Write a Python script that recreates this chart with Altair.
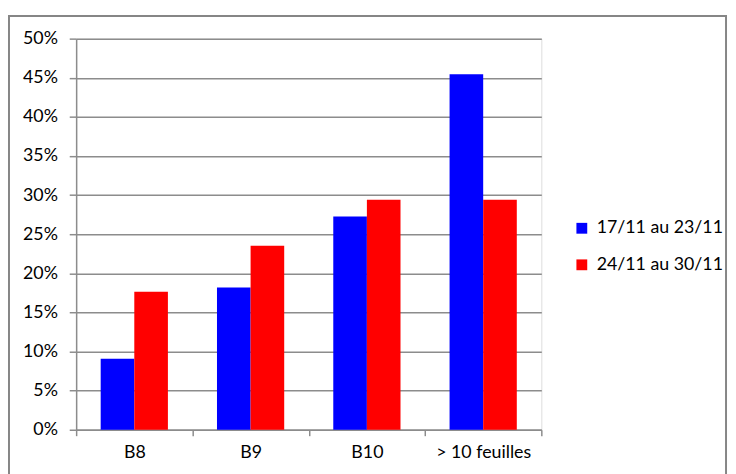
import altair as alt
import pandas as pd

categories = ["B8", "B9", "B10", "> 10 feuilles"]
series_names = ["17/11 au 23/11", "24/11 au 30/11"]
values_s1 = [0.0909, 0.1818, 0.2727, 0.4545]
values_s2 = [0.1765, 0.2353, 0.2941, 0.2941]
series_colors = ["#0000FF", "#FF0000"]
y_ticks = [0, 0.05, 0.10, 0.15, 0.20, 0.25, 0.30, 0.35, 0.40, 0.45, 0.50]

rows = []
for cat, v1, v2 in zip(categories, values_s1, values_s2):
    rows.append({"cat": cat, "series": series_names[0], "value": v1})
    rows.append({"cat": cat, "series": series_names[1], "value": v2})
df = pd.DataFrame(rows)

FONT = "Lato"
GRID = "#8C8C8C"

bars = alt.Chart(df).mark_bar().encode(
    x=alt.X(
        "cat:N",
        sort=categories,
        title=None,
        scale=alt.Scale(paddingInner=0, paddingOuter=0),
        axis=alt.Axis(
            labelAngle=0,
            tickBand="extent",
            domainColor=GRID,
            domainWidth=1.5,
            tickColor=GRID,
            tickWidth=1.5,
            tickSize=6,
            labelFontSize=18,
            labelFont=FONT,
            labelColor="#000000",
            labelPadding=8,
            grid=False,
        ),
    ),
    xOffset=alt.XOffset(
        "series:N",
        sort=series_names,
        scale=alt.Scale(paddingOuter=0.73, paddingInner=0),
    ),
    y=alt.Y(
        "value:Q",
        title=None,
        scale=alt.Scale(domain=[0, 0.5], nice=False),
        axis=alt.Axis(
            format=".0%",
            values=y_ticks,
            tickSize=7,
            tickColor=GRID,
            tickWidth=1.5,
            domainColor=GRID,
            domainWidth=1.5,
            gridColor=GRID,
            gridWidth=1.5,
            labelFontSize=18,
            labelFont=FONT,
            labelColor="#000000",
            labelPadding=12,
        ),
    ),
    color=alt.Color(
        "series:N",
        sort=series_names,
        scale=alt.Scale(domain=series_names, range=series_colors),
        legend=alt.Legend(
            title=None,
            orient="none",
            legendX=503,
            legendY=183,
            padding=0,
            symbolType="square",
            symbolSize=120,
            symbolStrokeWidth=0,
            labelFontSize=18,
            labelFont=FONT,
            labelColor="#000000",
            labelOffset=6,
            rowPadding=19,
        ),
    ),
)

border = alt.Chart(pd.DataFrame({"a": [0]})).mark_rect(
    fill=None, stroke="#868686", strokeWidth=2, clip=False
).encode(
    x=alt.value(-68),
    x2=alt.value(658),
    y=alt.value(-23),
    y2=alt.value(460),
)

chart = alt.layer(bars, border).properties(
    width=471,
    height=396,
    autosize=alt.AutoSizeParams(type="none"),
    padding={"left": 69, "top": 28, "right": 189, "bottom": 60},
).configure_view(stroke=GRID, strokeWidth=1.5).configure(background="white")

chart.save("out.html", embed_options={"renderer": "svg", "actions": False})
